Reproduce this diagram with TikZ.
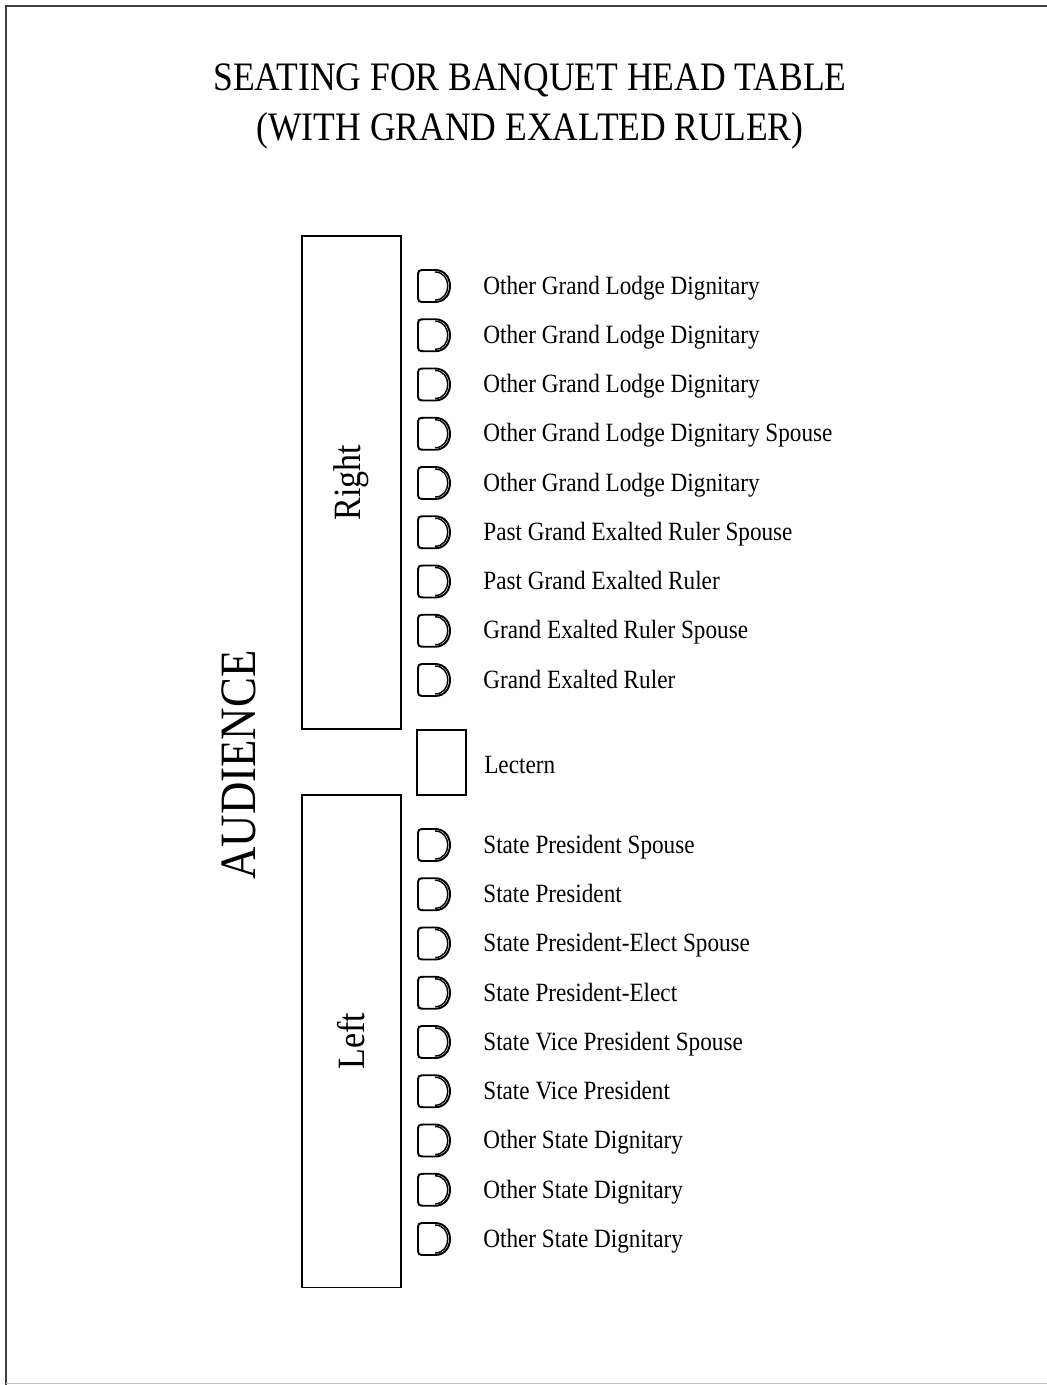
\documentclass[tikz,border=0pt]{standalone}
\usepackage{fontspec}
\setmainfont{Liberation Serif}[FakeStretch=0.88]
\usetikzlibrary{positioning}

\begin{document}
\begin{tikzpicture}[x=0.02cm,y=-0.02cm,
       tbl/.style={draw,line width=1.1pt,rotate=90,minimum width=9.86cm,minimum height=1.98cm,font=\fontsize{22}{26}\selectfont},
       seat/.style={anchor=west,inner sep=0pt,text height=1.6ex,text depth=.3ex,font=\fontsize{15}{18}\selectfont},
       chair/.pic={
         \draw[line width=1.1pt] (1,-16) -- (-8,-16) .. controls (-16,-16) .. (-16,-8) -- (-16,8)
           .. controls (-16,16) .. (-8,16) -- (1,16) .. controls (21,16) and (21,-16) .. (1,-16) -- cycle;
         \draw[line width=0.8pt] (1,-14) .. controls (18,-14) and (18,14) .. (1,14);
       }]
  \useasboundingbox (0,0) rectangle (1047,1385);
  % frame
  \draw[line width=1.4pt,black!75] (1047,6) -- (6,6) -- (6,1385);
  \draw[black!25] (6,1383) -- (1047,1383);

  \node[align=center,font=\fontsize{23}{28.5}\selectfont] (title) at (530,106)
    {SEATING FOR BANQUET HEAD TABLE\\(WITH GRAND EXALTED RULER)};
  \node[rotate=90,font=\fontsize{29}{34}\selectfont] (audience) at (239,765) {AUDIENCE};

  % tables and lectern
  \node[tbl] (righttab) at (351.5,482.5) {Right};
  \node[tbl] (lefttab) at (351.5,1041) {Left};
  \node[draw,line width=1.1pt,minimum width=0.98cm,minimum height=1.3cm] (lectern) at (441.5,762.5) {};
  \node[seat,right=0.34cm of lectern,yshift=-3pt] (lecternlbl) {Lectern};

  % seats, right side
  \foreach \lbl [count=\i from 0] in {Other Grand Lodge Dignitary,Other Grand Lodge Dignitary,
      Other Grand Lodge Dignitary,Other Grand Lodge Dignitary Spouse,Other Grand Lodge Dignitary,
      Past Grand Exalted Ruler Spouse,Past Grand Exalted Ruler,Grand Exalted Ruler Spouse,Grand Exalted Ruler}{
    \pic (rc\i) at (434,286+49.25*\i) {chair};
    \node[seat] (rl\i) at (483,289+49.25*\i) {\lbl};
  }
  % seats, left side
  \foreach \lbl [count=\i from 0] in {State President Spouse,State President,State President-Elect Spouse,
      State President-Elect,State Vice President Spouse,State Vice President,
      Other State Dignitary,Other State Dignitary,Other State Dignitary}{
    \pic (lc\i) at (434,845+49.25*\i) {chair};
    \node[seat] (ll\i) at (483,848+49.25*\i) {\lbl};
  }
\end{tikzpicture}
\end{document}
